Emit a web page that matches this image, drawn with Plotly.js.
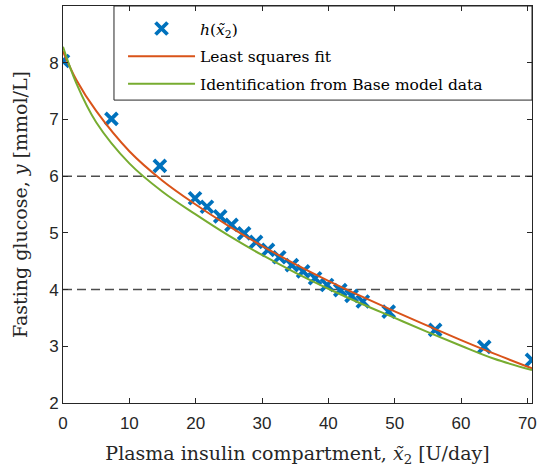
<!DOCTYPE html>
<html>
<head>
<meta charset="utf-8">
<script src="https://cdn.plot.ly/plotly-3.0.1.min.js"></script>
<style>html,body{margin:0;padding:0;background:#fff;}#chart{width:544px;height:470px;}</style>
</head>
<body>
<div id="chart"></div>
<script>
// Measured points h(x~2)
const insulinX = [0, 7.3, 14.6, 19.9, 21.7, 23.7, 25.4, 27.3, 29.1, 30.9, 32.6, 34.5, 36.2, 38.0, 39.8, 41.8, 43.5, 45.2, 49.1, 56.1, 63.5, 70.7];
const glucoseY = [8.03, 7.01, 6.18, 5.61, 5.46, 5.29, 5.14, 4.99, 4.84, 4.70, 4.57, 4.43, 4.32, 4.20, 4.08, 3.99, 3.89, 3.79, 3.61, 3.29, 2.99, 2.76];

// Least squares fit curve
const fitX = [0, 2, 5, 10, 15, 20, 25, 30, 35, 40, 45, 50, 55, 60, 65, 70.7];
const fitY = [8.20, 7.70, 7.15, 6.44, 5.92, 5.50, 5.12, 4.77, 4.45, 4.155, 3.88, 3.615, 3.36, 3.11, 2.87, 2.61];

// Identification from Base model data
const idX = [0, 2, 5, 10, 15, 20, 25, 30, 35, 40, 45, 50, 55, 60, 65, 70.7];
const idY = [8.28, 7.64, 6.95, 6.225, 5.725, 5.325, 4.95, 4.61, 4.30, 4.015, 3.75, 3.50, 3.25, 3.01, 2.78, 2.58];

// Reference thresholds
const thresholds = [6, 4];

const seriesNames = ['<i>h</i>(<i>x\u0303</i><sub>2</sub>)', 'Least squares fit', 'Identification from Base model data'];
const xTicks = [0, 10, 20, 30, 40, 50, 60, 70];
const yTicks = [2, 3, 4, 5, 6, 7, 8, 9];

const serif = 'DejaVu Serif, serif';
const sans = 'Liberation Sans, Arial, sans-serif';
const axisColor = '#262626';

const traces = [
  {x: insulinX, y: glucoseY, mode: 'markers', type: 'scatter', name: seriesNames[0],
   legendgroup: 'a', legendrank: 1,
   marker: {symbol: 'x-thin', size: 12, color: '#0072BD', line: {color: '#0072BD', width: 3.8}}},
  {x: fitX, y: fitY, mode: 'lines', type: 'scatter', name: seriesNames[1],
   legendgroup: 'b', legendrank: 2,
   line: {color: '#D95319', width: 2, shape: 'spline', smoothing: 1}},
  {x: idX, y: idY, mode: 'lines', type: 'scatter', name: seriesNames[2],
   legendgroup: 'c', legendrank: 3,
   line: {color: '#77AC30', width: 2, shape: 'spline', smoothing: 1}}
];

const shapes = thresholds.map(t => ({
  type: 'line', xref: 'paper', yref: 'y', x0: 0, x1: 1, y0: t, y1: t,
  line: {color: '#4d4d4d', width: 1.5, dash: '9px,5px'}, layer: 'below'
}));
shapes.push({type: 'rect', xref: 'paper', yref: 'paper', x0: 0.1087, x1: 1, y0: 0.763, y1: 1,
  line: {color: axisColor, width: 1}, fillcolor: 'rgba(0,0,0,0)', layer: 'above'});

const layout = {
  width: 544, height: 470,
  margin: {l: 63, r: 12, t: 6, b: 67},
  paper_bgcolor: '#ffffff', plot_bgcolor: '#ffffff',
  showlegend: true,
  legend: {x: 0.128, xanchor: 'left', y: 0.985, yanchor: 'top', bgcolor: 'rgba(0,0,0,0)',
    borderwidth: 0, itemwidth: 67, tracegroupgap: 4.5,
    font: {family: serif, size: 15.5, color: '#000'}},
  xaxis: {range: [0, 70.7], tickvals: xTicks, ticktext: xTicks.map(String),
    ticks: 'inside', ticklen: 5, tickcolor: axisColor, showline: true, linecolor: axisColor, linewidth: 1,
    mirror: 'ticks', showgrid: false, zeroline: false, ticklabelstandoff: 5,
    tickfont: {family: sans, size: 17, color: axisColor},
    title: {text: 'Plasma insulin compartment, <i>x\u0303</i><sub>2</sub> [U/day]', font: {family: serif, size: 19, color: '#262626'}, standoff: 14}},
  yaxis: {range: [2, 9], tickvals: yTicks, ticktext: yTicks.map(String),
    ticks: 'inside', ticklen: 5, tickcolor: axisColor, showline: true, linecolor: axisColor, linewidth: 1,
    mirror: 'ticks', showgrid: false, zeroline: false,
    tickfont: {family: sans, size: 17, color: axisColor},
    title: {text: 'Fasting glucose, <i>y</i> [mmol/L]', font: {family: serif, size: 19, color: '#262626'}, standoff: 16}},
  shapes: shapes
};

Plotly.newPlot('chart', traces, layout, {displayModeBar: false, staticPlot: true});
</script>
</body>
</html>
